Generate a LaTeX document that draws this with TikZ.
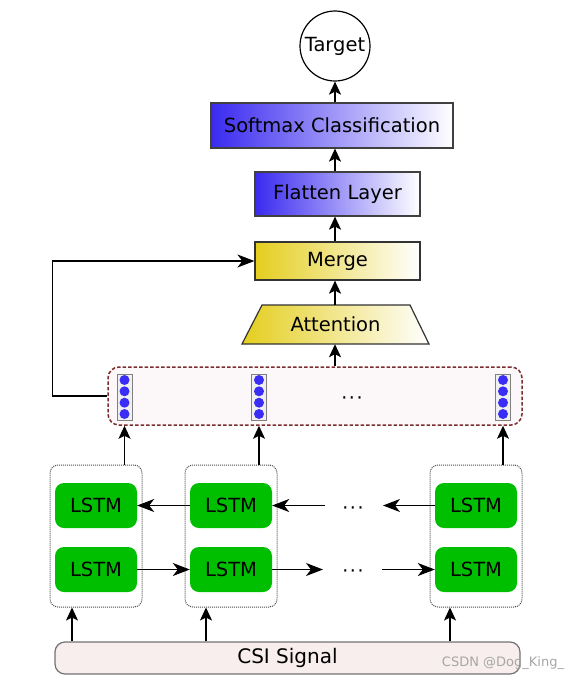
\documentclass[tikz,border=0pt]{standalone}
\usepackage{fontspec}
\setmainfont{DejaVu Sans}
\usetikzlibrary{arrows.meta,calc}
\definecolor{myblue}{HTML}{3A2AF0}
\definecolor{myyellow}{HTML}{E4CE1E}
\definecolor{lgreen}{HTML}{00BF00}
\definecolor{dred}{HTML}{7A2E2E}
\definecolor{pinkbg}{HTML}{FCF8FA}
\definecolor{csibg}{HTML}{F8EEEE}
\definecolor{dotblue}{HTML}{3A2DF5}
\begin{document}
\begin{tikzpicture}[x=1pt,y=-1pt,
  every node/.style={font=\fontsize{19.5}{22}\selectfont, inner sep=0pt},
  bluebox/.style={draw=black!75, line width=1.2pt, left color=myblue, right color=white},
  yelbox/.style={draw=black!80, line width=1.2pt, left color=myyellow, right color=white},
  arr/.style={-{Stealth[length=13pt,width=12pt,inset=3pt]}, line width=1.4pt},
  arrh/.style={-{Stealth[length=17pt,width=13pt,inset=5pt]}, line width=1.4pt},
  grp/.style={draw=black!70, densely dotted, line width=1pt, rounded corners=8pt, minimum width=92pt, minimum height=142pt},
  lstm/.style={fill=lgreen, rounded corners=9pt, minimum width=82pt, minimum height=45pt},
  vec/.style={draw=black!50, fill=black!6, line width=0.8pt, minimum width=15pt, minimum height=46pt},
  dotc/.style={circle, fill=dotblue, minimum size=10pt},
  dotsl/.style={font=\fontsize{19}{20}\selectfont}
]
\useasboundingbox (0,0) rectangle (580,681);

% top part
\node[circle, draw, line width=1.2pt, minimum size=70pt] (target) at (335,46) {Target};
\node[bluebox, minimum width=242pt, minimum height=45pt] (soft) at (332,125.5) {Softmax Classification};
\node[bluebox, minimum width=165pt, minimum height=44pt] (flat) at (337.5,194) {Flatten Layer};
\node[yelbox, minimum width=165pt, minimum height=38pt] (merge) at (337.5,261) {Merge};

% attention trapezoid
\coordinate (abl) at (242,344); \coordinate (abr) at (429,344);
\coordinate (atr) at (410,305); \coordinate (atl) at (262,305);
\path[left color=myyellow, right color=white, draw=black!80, line width=1.2pt]
  (abl) -- (abr) -- (atr) -- (atl) -- cycle;
\node[minimum width=187pt, minimum height=39pt] (att) at (335.5,324.5) {Attention};

% dashed container
\node[draw=dred, fill=pinkbg, dash pattern=on 3.5pt off 2pt, line width=1.5pt, rounded corners=11pt,
      minimum width=414pt, minimum height=58pt] (dash) at (315,396) {};
\foreach \i/\x in {1/124.5,2/259,3/503}{
  \node[vec] (v\i) at (\x,397) {};
  \foreach \j/\y in {1/380,2/391.3,3/402.7,4/414}{
    \node[dotc] (v\i d\j) at (\x,\y) {};
  }
}
\node[dotsl] (ddots) at (352,401) {·\kern1.5pt·\kern1.5pt·};

% groups
\node[grp] (g1) at (96,536) {};
\node[grp] (g2) at (231,536) {};
\node[grp] (g3) at (476,536) {};
\node[lstm] (l1t) at (96,505.5) {LSTM};
\node[lstm] (l2t) at (231,505.5) {LSTM};
\node[lstm] (l3t) at (476,505.5) {LSTM};
\node[lstm] (l1b) at (96,569.5) {LSTM};
\node[lstm] (l2b) at (231,569.5) {LSTM};
\node[lstm] (l3b) at (476,569.5) {LSTM};
\node[dotsl] (tdots) at (353,510.5) {·\kern1.5pt·\kern1.5pt·};
\node[dotsl] (bdots) at (353,574) {·\kern1.5pt·\kern1.5pt·};

% CSI
\node[draw=black!55, fill=csibg, line width=1.2pt, rounded corners=10pt, minimum width=465pt,
      minimum height=32pt, font=\fontsize{20}{22}\selectfont] (csi) at (287.5,658) {CSI Signal};

\node[text=black!35, font=\fontsize{13}{15}\selectfont] (wm) at (503,663) {CSDN @Dog\_King\_};

% connectors top
\draw[arr] (soft.north -| target) -- (target.south);
\draw[arr] (flat.north -| target) -- (soft.south -| target);
\draw[arr] (merge.north -| target) -- (flat.south -| target);
\draw[arr] (att.north -| target) -- (merge.south -| target);
\draw[arr] (dash.north -| target) -- (att.south -| target);
\draw[arrh] (dash.west) -- ++(-55,0) |- (merge.west);

% group to container
\foreach \i in {1,2,3}{
  \draw[arr] (g\i.north -| v\i) -- (dash.south -| v\i);
}

% horizontal LSTM links
\coordinate (ta) at (325,505.5);
\coordinate (tb) at (383,505.5);
\coordinate (ba) at (323,569.5);
\coordinate (bb) at (382,569.5);
\draw[arrh] (l2t.west) -- (l1t.east);
\draw[arrh] (ta) -- (l2t.east);
\draw[arrh] (l3t.west) -- (tb);
\draw[arrh] (l1b.east) -- (l2b.west);
\draw[arrh] (l2b.east) -- (ba);
\draw[arrh] (bb) -- (l3b.west);

% CSI to groups
\coordinate (c1) at (72,0);
\coordinate (c2) at (206,0);
\coordinate (c3) at (450,0);
\foreach \i in {1,2,3}{
  \draw[arr] (csi.north -| c\i) -- (g\i.south -| c\i);
}
\end{tikzpicture}
\end{document}
